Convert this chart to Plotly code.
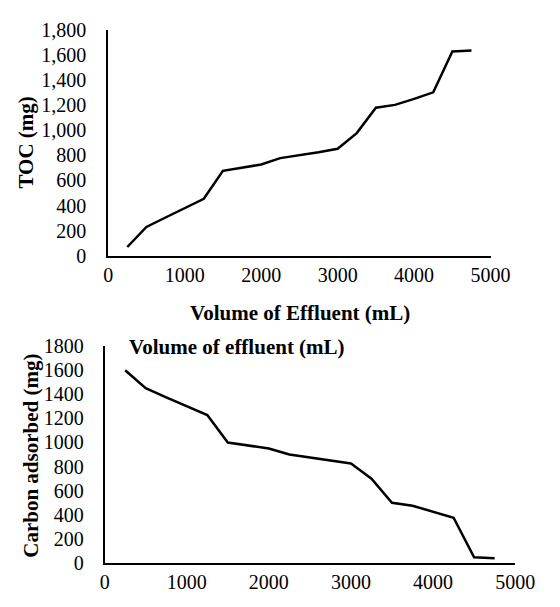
import plotly.graph_objects as go

volume_ml = [250, 500, 750, 1000, 1250, 1500, 1750, 2000, 2250, 2500, 2750, 3000,
             3250, 3500, 3750, 4000, 4250, 4500, 4750]
toc_mg = [70, 230, 305, 380, 454, 677, 702, 727, 778, 800, 825, 852,
          977, 1179, 1202, 1250, 1302, 1628, 1636]
carbon_adsorbed_mg = [1600, 1450, 1375, 1300, 1228, 1000, 975, 950, 900, 875, 850, 825,
                      700, 500, 475, 425, 375, 47, 40]

top_y_ticks = [0, 200, 400, 600, 800, 1000, 1200, 1400, 1600, 1800]
x_ticks = [0, 1000, 2000, 3000, 4000, 5000]

W, H = 560, 607
FONT = "'Times New Roman', 'Liberation Serif', 'DejaVu Serif', serif"

fig = go.Figure()
fig.add_trace(go.Scatter(x=volume_ml, y=toc_mg, mode="lines",
                         line=dict(color="black", width=2.5),
                         xaxis="x", yaxis="y", showlegend=False))
fig.add_trace(go.Scatter(x=volume_ml, y=carbon_adsorbed_mg, mode="lines",
                         line=dict(color="black", width=2.5),
                         xaxis="x2", yaxis="y2", showlegend=False))

def px_x(p):
    return p / W

def px_y(p):
    return (H - p) / H

axis_common = dict(showgrid=False, zeroline=False, showline=True, linecolor="black",
                   linewidth=2, ticks="", tickfont=dict(family=FONT, size=20, color="black"))

fig.update_layout(
    width=W, height=H, autosize=False,
    margin=dict(l=0, r=0, t=0, b=0, pad=0),
    paper_bgcolor="white", plot_bgcolor="white",
    font=dict(family=FONT, color="black"),
    xaxis=dict(domain=[px_x(108), px_x(508.3)], range=[0, 5000], tickvals=x_ticks,
               anchor="y", ticklabelstandoff=0, **axis_common),
    yaxis=dict(domain=[px_y(254), px_y(19.5)], range=[0, 1800], tickvals=top_y_ticks,
               tickformat=",d", anchor="x", ticklabelstandoff=16, **axis_common),
    xaxis2=dict(domain=[px_x(104.3), px_x(534)], range=[0, 5000], tickvals=x_ticks,
                anchor="y2", ticklabelstandoff=0, **axis_common),
    yaxis2=dict(domain=[px_y(572.7), px_y(347.7)], range=[0, 1800], tickvals=top_y_ticks,
                tickformat="d", anchor="x2", ticklabelstandoff=15, **axis_common),
    annotations=[
        dict(text="<b>Volume of Effluent (mL)</b>", x=px_x(308.3), y=px_y(313),
             xref="paper", yref="paper", showarrow=False, xanchor="center", yanchor="middle",
             font=dict(family=FONT, size=21, color="black")),
        dict(text="<b>TOC (mg)</b>", x=px_x(22.5), y=px_y(136), textangle=-90,
             xref="paper", yref="paper", showarrow=False, xanchor="center", yanchor="middle",
             font=dict(family=FONT, size=21, color="black")),
        dict(text="<b>Volume of effluent (mL)</b>", x=px_x(242.5), y=px_y(349),
             xref="paper", yref="paper", showarrow=False, xanchor="center", yanchor="middle",
             font=dict(family=FONT, size=21, color="black")),
        dict(text="<b>Carbon adsorbed (mg)</b>", x=px_x(27), y=px_y(461.7), textangle=-90,
             xref="paper", yref="paper", showarrow=False, xanchor="center", yanchor="middle",
             font=dict(family=FONT, size=21, color="black")),
    ],
)

fig.write_html("out.html")
